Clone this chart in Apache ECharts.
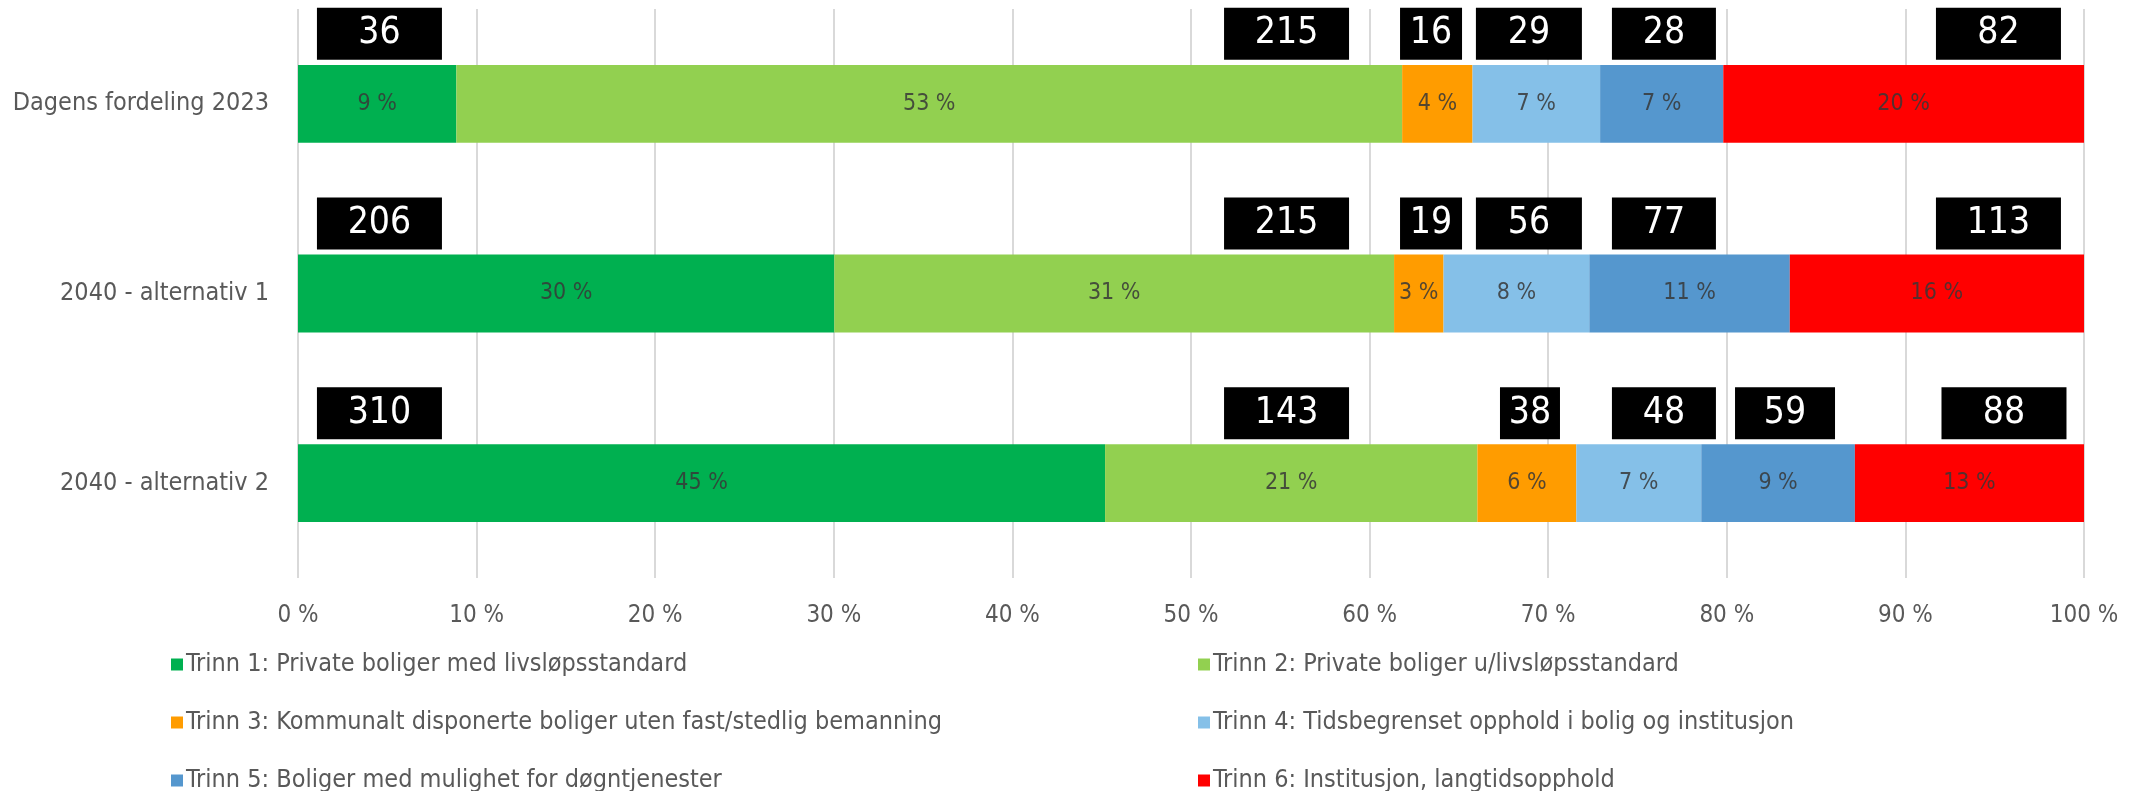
<!DOCTYPE html>
<html>
<head>
<meta charset="utf-8">
<script src="https://cdn.jsdelivr.net/npm/echarts@6/dist/echarts.min.js"></script>
<style>
  html, body { margin: 0; padding: 0; background: #fff; }
  #chart { width: 2134px; height: 791px; }
</style>
</head>
<body>
<div id="chart"></div>
<script>
// categories, top to bottom
const categories = ['Dagens fordeling 2023', '2040 - alternativ 1', '2040 - alternativ 2'];

const trinnNames = [
  'Trinn 1: Private boliger med livsløpsstandard',
  'Trinn 2: Private boliger u/livsløpsstandard',
  'Trinn 3: Kommunalt disponerte boliger uten fast/stedlig bemanning',
  'Trinn 4: Tidsbegrenset opphold i bolig og institusjon',
  'Trinn 5: Boliger med mulighet for døgntjenester',
  'Trinn 6: Institusjon, langtidsopphold'
];

// counts per trinn (one value per category)
const trinn1 = [36, 206, 310];
const trinn2 = [215, 215, 143];
const trinn3 = [16, 19, 38];
const trinn4 = [29, 56, 48];
const trinn5 = [28, 77, 59];
const trinn6 = [82, 113, 88];

const trinnColors = ['#00B050', '#92D050', '#FF9C00', '#85C0E8', '#5597CE', '#FF0000'];

// where the black count boxes sit (in % of the axis) and their width
const countBoxX = [
  [4.56, 55.35, 63.44, 68.92, 76.48, 95.21],
  [4.56, 55.35, 63.44, 68.92, 76.48, 95.21],
  [4.56, 55.35, 68.98, 76.48, 83.26, 95.52]
];
const countBoxW = [
  [125, 125, 62, 106, 104, 125],
  [125, 125, 62, 106, 104, 125],
  [125, 125, 60, 104, 100, 125]
];

const FONT = '"Liberation Sans Narrow", "DejaVu Sans Condensed", sans-serif';
const GREY = '#595959';

const counts = [trinn1, trinn2, trinn3, trinn4, trinn5, trinn6];
const totals = categories.map((c, i) => counts.reduce((s, arr) => s + arr[i], 0));

const barSeries = counts.map((arr, k) => ({
  name: trinnNames[k],
  type: 'bar',
  stack: 'total',
  barWidth: '41%',
  data: arr.map((v, i) => (v / totals[i]) * 100),
  itemStyle: { color: trinnColors[k] },
  label: {
    show: true,
    position: 'inside',
    formatter: (p) => Math.round(p.value) + ' %',
    color: 'rgba(55,55,55,0.85)',
    fontFamily: FONT,
    fontSize: 23
  }
}));

// black boxes with counts
const boxData = [];
categories.forEach((c, i) => {
  counts.forEach((arr, k) => {
    boxData.push({
      value: [countBoxX[i][k], i],
      count: arr[i],
      label: { width: countBoxW[i][k] }
    });
  });
});

const legendText = { color: GREY, fontFamily: FONT, fontSize: 25, lineHeight: 24, padding: [0, 0, 0, -2] };

const chart = echarts.init(document.getElementById('chart'));
chart.setOption({
  animation: false,
  grid: { left: 298, right: 50, top: 9, bottom: 213 },
  xAxis: {
    type: 'value',
    min: 0,
    max: 100,
    interval: 10,
    axisLine: { show: false },
    axisTick: { show: false },
    splitLine: { lineStyle: { color: '#D9D9D9', width: 2 } },
    axisLabel: {
      formatter: '{value} %',
      color: GREY,
      fontFamily: FONT,
      fontSize: 24,
      margin: 26
    }
  },
  yAxis: {
    type: 'category',
    data: categories,
    inverse: true,
    axisLine: { show: false },
    axisTick: { show: false },
    axisLabel: { color: GREY, fontFamily: FONT, fontSize: 25, margin: 29 }
  },
  legend: [
    {
      data: [trinnNames[0], trinnNames[2], trinnNames[4]],
      orient: 'vertical',
      left: 166,
      top: 647,
      height: 300,
      itemWidth: 12,
      itemHeight: 12,
      itemGap: 33,
      icon: 'rect',
      textStyle: legendText
    },
    {
      data: [trinnNames[1], trinnNames[3], trinnNames[5]],
      orient: 'vertical',
      left: 1193,
      top: 647,
      height: 300,
      itemWidth: 12,
      itemHeight: 12,
      itemGap: 33,
      icon: 'rect',
      textStyle: legendText
    }
  ],
  series: barSeries.concat([{
    name: 'antall',
    type: 'scatter',
    symbolSize: 1,
    itemStyle: { color: 'rgba(0,0,0,0)', opacity: 1 },
    silent: true,
    z: 5,
    data: boxData,
    label: {
      show: true,
      position: 'inside',
      offset: [0, -70],
      formatter: (p) => String(p.data.count),
      color: '#fff',
      fontFamily: FONT,
      fontSize: 37,
      backgroundColor: '#000',
      height: 52,
      lineHeight: 52,
      align: 'center',
      padding: 0
    }
  }])
});
</script>
</body>
</html>
